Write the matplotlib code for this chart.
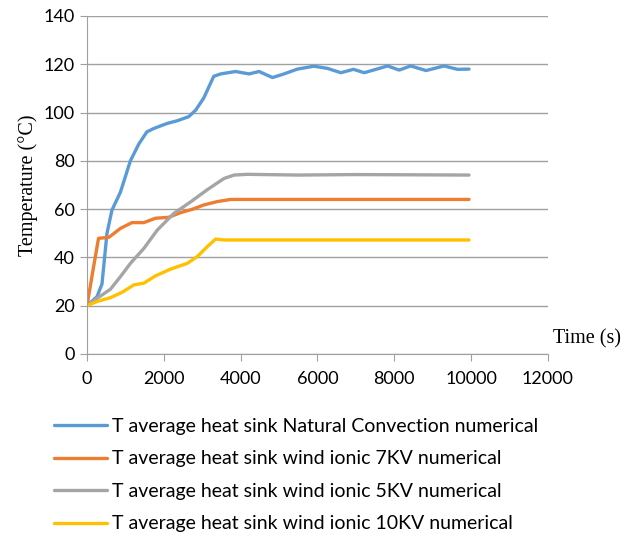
import matplotlib.pyplot as plt

# --- dados ---
t_nat = [0, 260, 390, 520, 650, 870, 1130, 1350, 1560, 1740, 2090, 2350, 2650, 2830,
         3040, 3300, 3480, 3870, 4220, 4480, 4830, 5130, 5480, 5910, 6260, 6610, 6940,
         7220, 7830, 8130, 8430, 8830, 9300, 9650, 9950]
T_nat = [20, 23.7, 29, 50, 59.6, 67, 80, 87, 92, 93.4, 95.5, 96.6, 98.3, 101,
         106, 115, 116, 117, 116, 117, 114.5, 116, 118, 119.2, 118.3, 116.5, 117.9,
         116.5, 119.3, 117.6, 119.3, 117.4, 119.3, 117.9, 118]

t_7kv = [0, 170, 300, 570, 870, 1170, 1480, 1780, 2130, 2430, 2740, 3040, 3390, 3740,
         4200, 6000, 8000, 9950]
T_7kv = [20, 36, 47.9, 48.3, 52, 54.4, 54.4, 56.2, 56.6, 58.5, 59.9, 61.7, 63.1, 64,
         64, 64, 64, 64]

t_5kv = [0, 260, 610, 870, 1130, 1480, 1830, 2260, 2700, 3130, 3570, 3830, 4170,
         5500, 7000, 8500, 9950]
T_5kv = [20, 23, 26.8, 32, 37.5, 43.7, 51.3, 58.2, 63, 68, 72.7, 74.1, 74.4,
         74.1, 74.3, 74.2, 74.1]

t_10kv = [0, 260, 610, 910, 1220, 1480, 1780, 2170, 2610, 2870, 3130, 3350, 3570,
          4200, 6000, 8000, 9950]
T_10kv = [20, 21.7, 23.3, 25.5, 28.6, 29.3, 32.3, 35.1, 37.5, 40.3, 44.4, 47.6, 47.2,
          47.2, 47.2, 47.2, 47.2]

labels = ["T average heat sink Natural Convection numerical",
          "T average heat sink wind ionic 7KV numerical",
          "T average heat sink wind ionic 5KV numerical",
          "T average heat sink wind ionic 10KV numerical"]
cores = ["#5B9BD5", "#ED7D31", "#A5A5A5", "#FFC000"]

fig = plt.figure(figsize=(6.26, 5.33), dpi=100)
ax = fig.add_axes([0.139, 0.336, 0.736, 0.634])

series = [(t_nat, T_nat), (t_7kv, T_7kv), (t_5kv, T_5kv), (t_10kv, T_10kv)]
for (tx, ty), lab, c in zip(series, labels, cores):
    ax.plot(tx, ty, color=c, lw=2.4, label=lab, solid_capstyle="round")

ax.set_xlim(0, 12000)
ax.set_ylim(0, 140)
ax.set_xticks(range(0, 12001, 2000))
ax.set_yticks(range(0, 141, 20))
ax.grid(axis="y", color="#A0A0A0", lw=1)
ax.set_axisbelow(True)
for s in ["top", "right"]:
    ax.spines[s].set_visible(False)
for s in ["left", "bottom"]:
    ax.spines[s].set_color("#A0A0A0")
ax.tick_params(colors="#A0A0A0", labelcolor="black", length=5, labelsize=13)
for lbl in ax.get_xticklabels() + ax.get_yticklabels():
    lbl.set_family("Lato")
ax.tick_params(axis="x", pad=7)
ax.tick_params(axis="y", pad=4)

ax.set_ylabel("Temperature (°C)", family="Liberation Serif", fontsize=14.5, labelpad=4)
fig.text(0.883, 0.355, "Time (s)", family="Liberation Serif", fontsize=14.5)

fig.legend(loc="upper left", bbox_to_anchor=(0.059, 0.249), frameon=False,
           prop={"family": "Lato", "size": 14}, handlelength=2.7,
           handletextpad=0.25, labelspacing=0.8)

fig.savefig("out.png", dpi=100)
